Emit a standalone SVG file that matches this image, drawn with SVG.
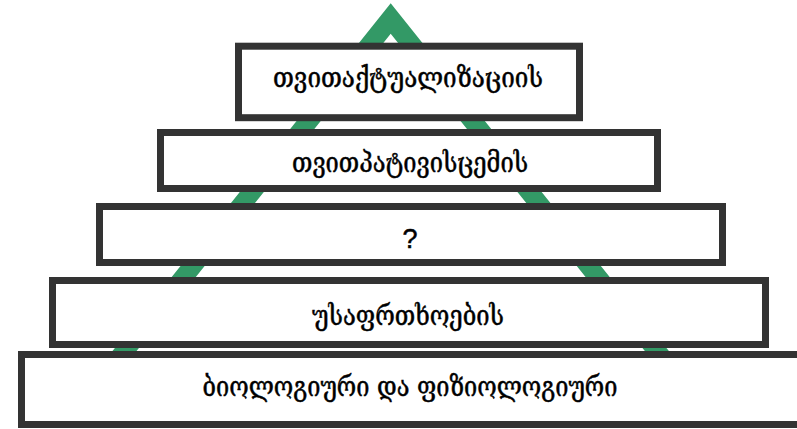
<svg xmlns="http://www.w3.org/2000/svg" width="797" height="429" viewBox="0 0 797 429">
<style>
.box{fill:#ffffff;stroke:#333333;stroke-width:7}
.lbl{font-family:"DejaVu Serif","DejaVu Sans",serif;font-size:28px;fill:#000000;stroke:#000000;stroke-width:0.5;text-anchor:middle}
.q{font-family:"Liberation Sans",sans-serif;font-size:27px;fill:#000000;stroke:#000000;stroke-width:0.5;text-anchor:middle}
.tri{fill:#339966;fill-rule:evenodd}
</style>
<rect width="797" height="429" fill="#ffffff"/>
<g id="connectors">
<path class="tri" d="M390.7,3.3 L724.1,420 L57.3,420 Z M390.7,33.7 L684.1,400 L97.3,400 Z"/>
</g>
<g id="node1">
<rect class="box" x="238.5" y="46.2" width="341" height="71.5"/>
<text class="lbl" x="408" y="87" textLength="270" lengthAdjust="spacingAndGlyphs">თვითაქტუალიზაციის</text>
</g>
<g id="node2">
<rect class="box" x="160.5" y="132.5" width="497" height="56"/>
<text class="lbl" x="410" y="172" textLength="236" lengthAdjust="spacingAndGlyphs">თვითპატივისცემის</text>
</g>
<g id="node3">
<rect class="box" x="99.5" y="206.5" width="623" height="56"/>
<text class="q" x="410" y="248">?</text>
</g>
<g id="node4">
<rect class="box" x="52.5" y="280.5" width="713" height="64"/>
<text class="lbl" x="408" y="325" textLength="192" lengthAdjust="spacingAndGlyphs">უსაფრთხოების</text>
</g>
<g id="node5">
<rect class="box" x="21.5" y="354.5" width="790" height="70"/>
<text class="lbl" x="410" y="396" textLength="415" lengthAdjust="spacingAndGlyphs">ბიოლოგიური და ფიზიოლოგიური</text>
</g>
</svg>
